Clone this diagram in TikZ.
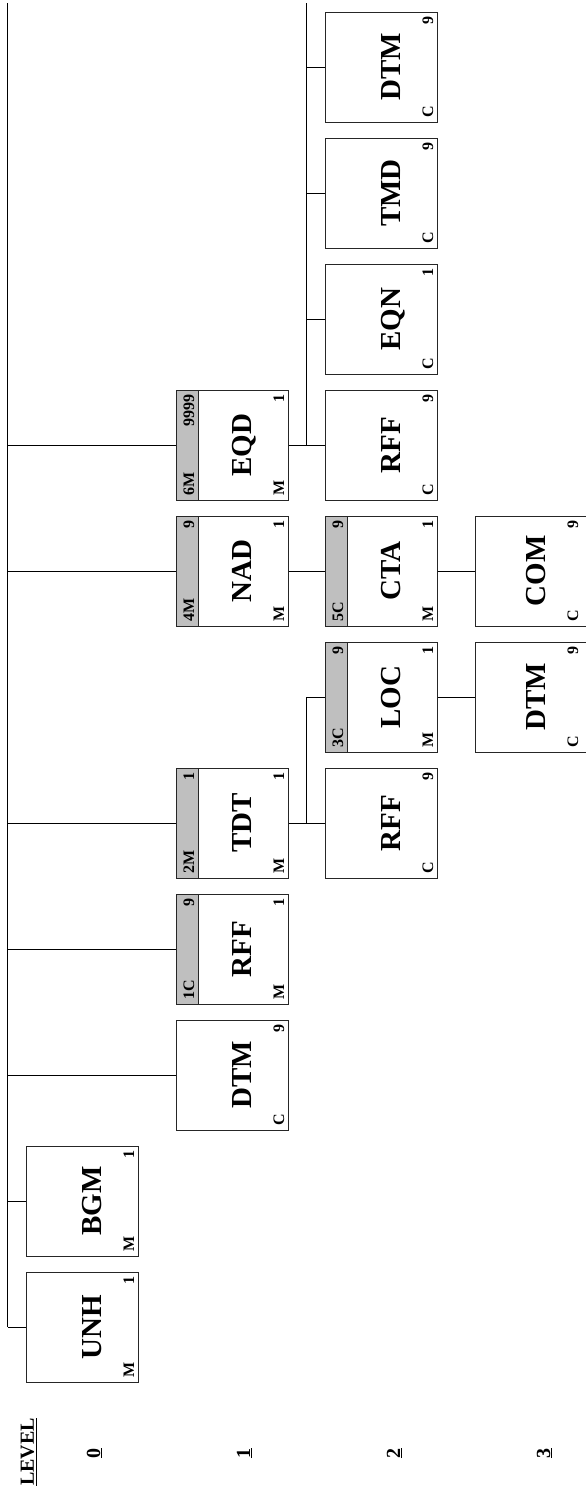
\documentclass[tikz,border=0pt]{standalone}
\usepackage{fontspec}
\setmainfont{Liberation Serif}
\tikzset{
  box/.style={draw=black!85, line width=1pt, rectangle, minimum width=112pt, minimum height=110pt, inner sep=0pt},
  band/.style={draw=black!85, line width=1pt, fill=black!25},
  biglbl/.style={font=\fontsize{29}{29}\selectfont\bfseries, rotate=90, inner sep=0pt, anchor=base},
  smalllbl/.style={font=\fontsize{16}{16}\selectfont\bfseries, rotate=90, inner sep=0pt},
  conn/.style={line width=0.9pt, black},
  lvl/.style={font=\fontsize{20}{20}\selectfont\bfseries, rotate=90, inner sep=0pt, anchor=base},
}
\newcommand\plainbox[7][0]{%
  \node[box] (#2) at (#3+56,#4+55) {};
  \node[biglbl] (#2-t) at (#3+75-#1,#4+55) {#5};
  \node[smalllbl, anchor=base west] (#2-bl) at (#3+108-#1,#4+106) {#6};
  \node[smalllbl, anchor=base east] (#2-br) at (#3+108-#1,#4+4) {#7};
}
\newcommand\hdrbox[8]{%
  \path[band] (#2,#3) rectangle (#2+22,#3+110);
  \plainbox{#1}{#2}{#3}{#4}{#5}{#6}
  \node[smalllbl, anchor=base west] (#1-hl) at (#2+18,#3+106) {#7};
  \node[smalllbl, anchor=base east] (#1-hr) at (#2+18,#3+4) {#8};
}
\begin{document}
\begin{tikzpicture}[x=1pt,y=-1pt]
\useasboundingbox (0,0) rectangle (586,1494);
% level 0
\plainbox{unh}{26}{1272}{UNH}{M}{1}
\plainbox{bgm}{26}{1146}{BGM}{M}{1}
% level 1
\plainbox{dtmA}{176}{1020}{DTM}{C}{9}
\hdrbox{rffA}{176}{894}{RFF}{M}{1}{1C}{9}
\hdrbox{tdt}{176}{768}{TDT}{M}{1}{2M}{1}
\hdrbox{nad}{176}{516}{NAD}{M}{1}{4M}{9}
\hdrbox{eqd}{176}{390}{EQD}{M}{1}{6M}{9999}
% level 2
\plainbox{rffB}{325}{768}{RFF}{C}{9}
\hdrbox{loc}{325}{642}{LOC}{M}{1}{3C}{9}
\hdrbox{cta}{325}{516}{CTA}{M}{1}{5C}{9}
\plainbox{rffC}{325}{390}{RFF}{C}{9}
\plainbox{eqn}{325}{264}{EQN}{C}{1}
\plainbox{tmd}{325}{138}{TMD}{C}{9}
\plainbox{dtmB}{325}{12}{DTM}{C}{9}
% level 3
\plainbox[5]{dtmC}{475}{642}{DTM}{C}{9}
\plainbox[5]{com}{475}{516}{COM}{C}{9}
% level labels
\node[lvl] (lvlhdr) at (34,1452) {\underline{LEVEL}};
\node[lvl] (lvl0) at (100,1453) {\underline{0}};
\node[lvl] (lvl1) at (250,1453) {\underline{1}};
\node[lvl] (lvl2) at (400,1453) {\underline{2}};
\node[lvl] (lvl3) at (550,1453) {\underline{3}};
% connectors
\coordinate (trunkTop) at (7.5,3);
\coordinate (trunkBot) at (7.5,1327);
\coordinate (branchTop) at (306,3);
\draw[conn] (trunkTop) -- (trunkBot);
\foreach \n in {unh,bgm,dtmA,rffA,tdt,nad,eqd}
  \draw[conn] (\n.west -| trunkTop) -- (\n.west);
\draw[conn] (tdt.east) -- (rffB.west);
\draw[conn] (tdt.east -| branchTop) -- (loc.west -| branchTop) -- (loc.west);
\draw[conn] (nad.east) -- (cta.west);
\draw[conn] (eqd.east) -- (rffC.west);
\draw[conn] (branchTop) -- (eqd.east -| branchTop);
\foreach \n in {eqn,tmd,dtmB}
  \draw[conn] (\n.west -| branchTop) -- (\n.west);
\draw[conn] (loc.east) -- (dtmC.west);
\draw[conn] (cta.east) -- (com.west);
\end{tikzpicture}
\end{document}
